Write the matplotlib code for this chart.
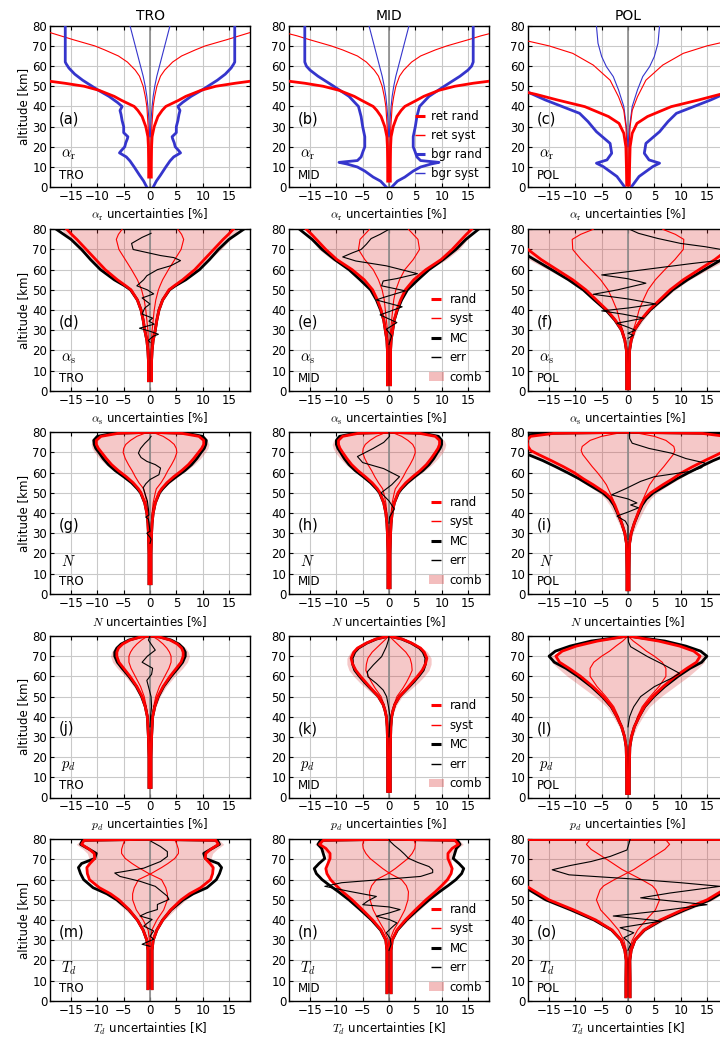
import matplotlib
matplotlib.use('Agg')
import matplotlib.pyplot as plt
import numpy as np
from matplotlib.lines import Line2D
from matplotlib.patches import Patch

plt.rcParams['font.family'] = ['DejaVu Sans']
plt.rcParams['mathtext.fontset'] = 'cm'

REGIONS = ['TRO', 'MID', 'POL']
ROW_VARS = [r'$\alpha_\mathrm{r}$', r'$\alpha_\mathrm{s}$', r'$N$', r'$p_d$', r'$T_d$']
ROW_XLABELS = [r'$\alpha_\mathrm{r}$ uncertainties [%]', r'$\alpha_\mathrm{s}$ uncertainties [%]',
               r'$N$ uncertainties [%]', r'$p_d$ uncertainties [%]', r'$T_d$ uncertainties [K]']
PANEL_LETTERS = ['a', 'b', 'c', 'd', 'e', 'f', 'g', 'h', 'i', 'j', 'k', 'l', 'm', 'n', 'o']
XTICKS = [-15, -10, -5, 0, 5, 10, 15]
YTICKS = [0, 10, 20, 30, 40, 50, 60, 70, 80]

# ---------------- Row 1: alpha_r ----------------
# (a) TRO
A_RETRAND_Z = [5, 10, 20, 25, 30, 35, 38, 40, 43, 45, 48, 50, 51.5, 53]
A_RETRAND = [0.25, 0.25, 0.3, 0.4, 0.8, 1.5, 2.3, 3.0, 5.4, 6.8, 9.7, 12.5, 16.2, 20.5]
A_RETSYST_Z = [5, 20, 30, 40, 45, 50, 55, 58, 62, 65, 68, 70, 73, 75, 77, 78]
A_RETSYST = [0.05, 0.2, 0.35, 0.6, 0.9, 1.3, 2.0, 2.8, 4.3, 6.0, 8.6, 10.5, 14.5, 17.0, 19.5, 21.0]
A_BGRRAND_Z = [0, 3, 6, 10, 13, 15, 17, 18, 20, 22, 24, 25, 27, 30, 33, 36, 38, 40, 42, 45, 48, 50, 53, 56, 59, 61, 62, 80]
A_BGRRAND = [0.6, 1.2, 2.0, 3.0, 3.8, 4.5, 5.8, 5.5, 4.8, 4.6, 4.3, 4.2, 5.0, 5.0, 5.3, 5.5, 5.7, 5.3, 6.2, 7.8, 9.8, 11.0, 12.8, 14.3, 15.4, 15.9, 16.1, 16.1]
A_BGRSYST_Z = [25, 30, 35, 40, 45, 50, 55, 60, 65, 70, 75, 80]
A_BGRSYST = [0.05, 0.15, 0.25, 0.4, 0.6, 0.9, 1.3, 1.8, 2.3, 2.8, 3.3, 3.8]
# (b) MID
B_RETRAND_Z = [3, 10, 20, 25, 30, 35, 38, 40, 43, 45, 48, 50, 51.5, 53]
B_RETRAND = [0.25, 0.25, 0.3, 0.4, 0.8, 1.5, 2.3, 3.0, 5.2, 6.6, 9.5, 12.5, 16.0, 20.5]
B_RETSYST_Z = [3, 20, 30, 40, 45, 50, 55, 58, 62, 65, 68, 70, 73, 75, 76, 77]
B_RETSYST = [0.05, 0.2, 0.35, 0.6, 0.9, 1.3, 2.0, 2.8, 4.3, 6.0, 8.8, 11.0, 15.0, 17.5, 19.0, 20.5]
B_BGRRAND_Z = [0, 3, 5, 8, 10, 11.5, 12.3, 13.2, 15, 18, 20, 25, 30, 35, 40, 45, 50, 55, 58, 60, 62, 80]
B_BGRRAND = [0.5, 1.6, 3.0, 4.6, 6.0, 8.0, 9.5, 6.0, 5.3, 4.9, 4.6, 4.6, 5.0, 5.3, 5.8, 7.6, 10.5, 13.5, 15.0, 15.7, 16.0, 16.0]
B_BGRSYST_Z = [25, 30, 35, 40, 45, 50, 55, 60, 65, 70, 75, 80]
B_BGRSYST = [0.05, 0.15, 0.25, 0.4, 0.6, 0.9, 1.3, 1.8, 2.3, 2.8, 3.3, 3.8]
# (c) POL
C_RETRAND_Z = [1, 10, 20, 26.7, 31.6, 35, 39.9, 43.2, 46, 48]
C_RETRAND = [0.25, 0.3, 0.4, 0.8, 1.7, 3.7, 8.2, 13.4, 17.5, 21.0]
C_RETSYST_Z = [1, 20, 30, 38, 44.8, 53, 60.5, 66.3, 70, 72.5, 74]
C_RETSYST = [0.05, 0.2, 0.4, 0.8, 1.8, 3.4, 6.6, 10.5, 15.0, 19.2, 22.0]
C_BGRRAND_Z = [0, 5.3, 10.2, 11.9, 13.5, 16.8, 21.7, 27.5, 32.5, 36.6, 43.2, 47.3, 50, 80]
C_BGRRAND = [0.6, 2.1, 4.7, 6.0, 4.0, 3.1, 3.4, 6.0, 7.6, 9.2, 15.7, 19.2, 23.0, 23.0]
C_BGRSYST_Z = [20, 30, 40, 48.2, 54.8, 59.7, 64.7, 71.3, 80]
C_BGRSYST = [0.0, 0.3, 0.8, 1.8, 2.8, 4.1, 5.0, 5.7, 6.0]

# ---------------- Row 2: alpha_s ----------------
D_Z = [5, 10, 15, 20, 25, 30, 35, 40, 45, 50, 52, 55, 60, 65, 70, 75, 77.5, 80]
D_RAND = [0.3, 0.3, 0.3, 0.4, 0.6, 1.0, 1.3, 1.7, 2.4, 3.6, 4.6, 6.2, 8.5, 10.3, 12.1, 13.9, 14.9, 15.8]
D_MC = [0.3, 0.3, 0.3, 0.4, 0.6, 1.0, 1.3, 1.7, 2.4, 3.7, 4.8, 6.8, 9.4, 11.3, 13.0, 15.0, 16.4, 17.8]
D_SYST = [0.05, 0.1, 0.15, 0.2, 0.3, 0.4, 0.6, 0.8, 1.1, 1.6, 1.9, 2.4, 3.5, 4.7, 5.9, 6.4, 6.0, 5.3]
D_COMB = [0.3, 0.32, 0.35, 0.45, 0.7, 1.1, 1.4, 1.9, 2.6, 3.9, 5.0, 6.6, 9.2, 11.3, 13.5, 15.3, 16.2, 16.7]
D_ERR_Z = [24, 25, 27, 28, 29.5, 31, 33, 34.5, 36, 38, 41, 43, 46, 48, 50, 52, 55, 57, 60, 62, 64.5, 66, 67, 70, 73, 76, 78]
D_ERR = [0, -0.3, 0.6, 1.6, 0, -2.0, 0.8, -0.2, 0.5, -1.5, -1.0, 0, -1.5, 0.7, -0.5, -2.5, -1.2, -0.6, 1.4, 4.0, 5.8, 4.5, 2.0, -3.2, -3.5, -1.5, 0.2]

E_Z = [3, 10, 15, 20, 25, 30, 35, 40, 45, 50, 55, 60, 65, 70, 75, 77.5, 80]
E_RAND = [0.3, 0.3, 0.3, 0.3, 0.4, 0.7, 1.0, 1.5, 2.2, 3.1, 4.7, 7.0, 9.9, 12.0, 13.8, 14.7, 15.7]
E_MC = [0.3, 0.3, 0.3, 0.3, 0.4, 0.7, 1.0, 1.6, 2.4, 3.5, 5.5, 7.6, 10.3, 12.7, 14.6, 15.8, 17.0]
E_SYST = [0.05, 0.1, 0.1, 0.15, 0.2, 0.3, 0.5, 0.7, 0.9, 1.3, 2.0, 3.0, 4.6, 5.8, 5.5, 4.6, 3.7]
E_COMB = [0.3, 0.32, 0.32, 0.35, 0.5, 0.8, 1.1, 1.7, 2.4, 3.4, 5.1, 7.6, 10.9, 13.3, 14.9, 15.4, 16.1]
E_ERR_Z = [23, 27.2, 30.5, 33.8, 37.6, 41.6, 45, 46.2, 49.5, 52, 54.4, 55.6, 58, 61.9, 64.3, 66.3, 68.4, 70, 72.6, 75.4, 77.5, 80]
E_ERR = [0, 0.5, -0.5, 1.5, -1.7, 2.5, -2.4, -1.1, 3.1, -1.4, -1.1, 1.5, 5.4, -0.5, -6.3, -8.8, -6.9, -5.3, -4.3, -3.4, -1.7, 0]

F_Z = [1, 10, 20, 25, 30, 35, 40, 45, 50, 55, 60, 65, 70, 75, 77.5, 80]
F_RAND = [0.25, 0.25, 0.3, 0.6, 1.2, 2.4, 4.0, 6.0, 8.0, 10.5, 13.5, 16.5, 19.0, 22.0, 23.5, 25.0]
F_MC = [0.25, 0.25, 0.3, 0.6, 1.2, 2.5, 4.2, 6.4, 8.5, 11.3, 14.5, 17.8, 21.0, 24.0, 26.0, 28.0]
F_SYST = [0.05, 0.1, 0.3, 0.5, 1.0, 1.6, 2.1, 2.9, 3.8, 5.2, 7.0, 8.9, 10.5, 10.6, 9.0, 6.6]
F_COMB = [0.25, 0.27, 0.4, 0.8, 1.6, 2.9, 4.5, 6.7, 8.9, 11.7, 15.2, 18.8, 21.7, 24.4, 25.2, 26.0]
F_ERR_Z = [26, 27.5, 28.5, 30, 31.5, 33.5, 34.5, 36, 38, 39.6, 41, 43, 45.5, 47.8, 50, 53.3, 55.5, 57.4, 60, 63, 66, 69, 71.4, 73, 75.5, 78, 80]
F_ERR = [0, 1.0, 0, 1.4, 0, -2.1, 0, 3.0, -1.0, -5.0, 0, 5.3, 0, -6.6, -2.0, 3.4, 0, -5.0, 3.0, 12.0, 22.0, 20.0, 14.6, 10.0, 5.6, 2.0, 0.3]

# ---------------- Row 3: N ----------------
G_Z = [5, 10, 20, 30, 35, 40, 45, 50, 52, 55, 58, 61, 64, 67, 70, 72, 74, 76, 78, 79.5, 80]
G_RAND = [0.2, 0.2, 0.2, 0.3, 0.4, 0.6, 1.0, 1.7, 2.2, 3.2, 4.5, 6.0, 7.3, 8.3, 9.2, 9.8, 10.2, 10.2, 9.3, 6.0, 0]
G_MC = [0.2, 0.2, 0.2, 0.3, 0.4, 0.6, 1.0, 1.8, 2.4, 3.5, 5.0, 6.6, 7.9, 8.9, 9.7, 10.3, 10.6, 10.7, 10.0, 7.0, 0]
G_SYST = [0.05, 0.05, 0.1, 0.2, 0.3, 0.4, 0.6, 1.0, 1.2, 2.1, 2.8, 3.4, 4.1, 4.7, 5.1, 5.0, 4.6, 3.7, 2.5, 1.0, 0]
G_COMB = [0.2, 0.2, 0.22, 0.36, 0.5, 0.72, 1.2, 2.0, 2.5, 3.8, 5.3, 6.9, 8.4, 9.6, 10.5, 11.0, 11.2, 10.9, 9.6, 6.2, 0]
G_ERR_Z = [25, 27, 28, 30, 31, 33, 37, 38, 39, 42, 46, 50, 52.5, 54.5, 56.6, 59, 62.3, 64, 65.6, 67.5, 69.7, 72, 74.5, 76.5, 78]
G_ERR = [0, 0.2, 0, -0.6, 0, -0.1, -0.3, -0.8, -0.2, -0.3, -0.5, -1.0, -1.3, -0.8, 0, 1.7, 2.0, 1.0, -0.6, -1.7, -2.2, -1.8, -1.0, -0.2, 0.2]

H_Z = [3, 10, 20, 30, 35, 40, 45, 50, 52, 55, 58, 61, 64, 67, 70, 72, 74, 76, 78, 79.5, 80]
H_RAND = [0.2, 0.2, 0.2, 0.3, 0.4, 0.6, 1.0, 1.7, 2.2, 3.2, 4.5, 5.9, 7.1, 8.0, 8.8, 9.3, 9.6, 9.6, 8.8, 5.8, 0]
H_MC = [0.2, 0.2, 0.2, 0.3, 0.4, 0.6, 1.0, 1.8, 2.4, 3.5, 4.9, 6.4, 7.6, 8.5, 9.2, 9.7, 10.0, 10.0, 9.4, 6.5, 0]
H_SYST = [0.05, 0.05, 0.1, 0.2, 0.3, 0.4, 0.6, 1.0, 1.2, 2.0, 2.7, 3.3, 4.0, 4.6, 5.0, 4.9, 4.5, 3.6, 2.4, 1.0, 0]
H_COMB = [0.2, 0.2, 0.22, 0.36, 0.5, 0.72, 1.2, 2.0, 2.5, 3.8, 5.2, 6.8, 8.2, 9.3, 10.2, 10.6, 10.8, 10.5, 9.2, 6.0, 0]
H_ERR_Z = [35, 38, 42, 46, 50, 54, 58, 62, 65, 68, 72, 75, 78, 80]
H_ERR = [0, 0.1, 1.0, 0.0, -1.5, 0.5, 2.0, -1.0, -5.0, -6.0, -3.0, -1.0, 0.1, 0]

I_Z = [2, 10, 20, 25, 30, 35, 40, 44, 47, 50, 54, 57, 60, 63, 66, 69, 71, 73, 76, 78, 79.5, 80]
I_RAND = [0.2, 0.2, 0.25, 0.3, 0.6, 1.2, 1.9, 2.5, 3.1, 4.3, 6.6, 8.5, 10.2, 12.3, 14.6, 17.0, 18.5, 19.0, 19.2, 18.5, 14.0, 0]
I_MC = [0.2, 0.2, 0.25, 0.3, 0.6, 1.2, 2.0, 2.7, 3.5, 4.8, 7.4, 9.3, 11.5, 13.8, 16.2, 19.0, 21.0, 22.5, 23.0, 22.0, 16.0, 0]
I_SYST = [0.05, 0.1, 0.2, 0.4, 0.7, 1.3, 1.9, 2.5, 2.9, 3.4, 4.1, 4.9, 5.8, 6.8, 7.7, 8.6, 8.9, 8.7, 7.2, 5.0, 2.0, 0]
I_COMB = [0.2, 0.22, 0.32, 0.5, 0.92, 1.77, 2.7, 3.5, 4.3, 5.5, 7.8, 9.8, 11.7, 14.0, 16.5, 19.0, 20.5, 21.0, 20.5, 19.2, 14.2, 0]
I_ERR_Z = [27, 30, 33.6, 36, 38.5, 40.5, 42.6, 44, 45, 47, 49, 52, 55.7, 58, 60.7, 62.5, 64.8, 67, 69.7, 72, 74.6, 77, 80]
I_ERR = [0, 0, 0, -0.5, -2.1, 0, 2.0, 0.5, 1.7, 0, -3.1, -0.5, 2.4, 5.0, 12.0, 14.0, 14.6, 11.0, 8.2, 4.0, 0.8, 0.3, 0.3]

# ---------------- Row 4: p_d ----------------
J_Z = [5, 10, 20, 30, 40, 45, 50, 55, 60, 64, 67, 70, 72, 74, 76, 78, 79.5, 80]
J_RAND = [0.2, 0.2, 0.2, 0.3, 0.5, 0.9, 1.5, 2.5, 3.8, 5.0, 5.9, 6.3, 6.3, 6.0, 5.2, 3.8, 1.8, 0]
J_MC = [0.2, 0.2, 0.2, 0.3, 0.5, 0.9, 1.6, 2.6, 4.0, 5.3, 6.2, 6.7, 6.7, 6.3, 5.5, 4.0, 1.9, 0]
J_SYST = [0.05, 0.05, 0.1, 0.2, 0.4, 0.7, 1.1, 1.8, 2.8, 3.6, 4.0, 4.0, 3.7, 3.2, 2.5, 1.6, 0.7, 0]
J_COMB = [0.2, 0.2, 0.22, 0.36, 0.65, 1.15, 1.9, 3.1, 4.7, 6.2, 7.1, 7.5, 7.3, 6.8, 5.8, 4.1, 1.9, 0]
J_ERR_Z = [35, 40, 45, 50, 55, 58, 61, 64, 67, 70, 73, 76, 78, 80]
J_ERR = [0, 0.1, 0.3, 0.2, -0.3, -0.6, 0.3, 0.5, -1.5, -0.5, 1.0, 0.2, -0.3, 0]

K_Z = [3, 10, 20, 30, 35, 40, 43, 46, 50, 54, 57, 60, 63, 66, 69, 72, 74, 76.5, 78.5, 80]
K_RAND = [0.25, 0.25, 0.25, 0.3, 0.35, 0.5, 0.75, 1.1, 2.0, 3.4, 4.4, 5.4, 6.3, 6.9, 7.2, 6.7, 6.0, 4.3, 2.5, 0]
K_MC = [0.25, 0.25, 0.25, 0.3, 0.35, 0.5, 0.75, 1.1, 2.0, 3.5, 4.6, 5.6, 6.5, 6.9, 7.0, 6.5, 5.8, 4.2, 2.4, 0]
K_SYST = [0.05, 0.05, 0.1, 0.2, 0.3, 0.5, 0.7, 0.95, 1.5, 2.6, 3.3, 3.9, 4.4, 4.3, 4.0, 3.2, 2.4, 1.4, 0.6, 0]
K_COMB = [0.25, 0.25, 0.27, 0.36, 0.46, 0.7, 1.0, 1.5, 2.5, 4.3, 5.6, 6.7, 7.6, 8.0, 8.0, 7.3, 6.4, 4.5, 2.6, 0]
K_ERR_Z = [30, 35, 40, 45, 50, 53.2, 56.5, 59.8, 62.3, 65.6, 69.8, 74.7, 78, 80]
K_ERR = [0, 0.1, 0.2, -0.1, -0.45, -1.1, -2.4, -4.0, -4.1, -3.0, -1.4, -0.5, -0.1, 0]

L_Z = [2, 10, 20, 25, 30, 35, 40, 45, 50, 55, 60, 64, 67, 70, 72.5, 75, 77.5, 80]
L_RAND = [0.25, 0.25, 0.3, 0.35, 0.65, 1.2, 2.1, 3.1, 4.7, 6.7, 9.0, 11.2, 13.0, 13.7, 12.5, 9.8, 5.8, 0]
L_MC = [0.25, 0.25, 0.3, 0.35, 0.65, 1.2, 2.1, 3.2, 4.9, 7.0, 9.5, 11.8, 14.0, 15.0, 13.8, 11.0, 7.0, 0]
L_SYST = [0.05, 0.1, 0.2, 0.35, 0.6, 1.2, 1.8, 2.7, 4.2, 5.9, 7.2, 7.2, 6.5, 5.0, 3.5, 2.3, 1.0, 0]
L_COMB = [0.25, 0.27, 0.36, 0.5, 0.9, 1.7, 2.8, 4.1, 6.3, 8.9, 11.5, 13.3, 14.5, 14.6, 13.0, 10.3, 6.6, 0]
L_ERR_Z = [35, 36.7, 40, 43.3, 45, 50, 54.9, 59, 61.5, 65.6, 69.8, 74.7, 77, 80]
L_ERR = [0, 0.1, 0.3, 0.8, 1.1, 2.4, 5.0, 8.2, 9.8, 6.9, 3.7, 0.5, 0.1, 0]

# ---------------- Row 5: T_d ----------------
M_Z = [6, 10, 20, 25, 30, 35, 40, 45, 50, 53, 56, 60, 63, 66, 68, 70.5, 73, 75, 77.5, 79.5, 80]
M_RAND = [0.4, 0.4, 0.4, 0.4, 0.6, 1.3, 2.4, 3.9, 5.9, 7.5, 9.6, 11.5, 11.9, 12.0, 11.4, 10.5, 10.6, 11.5, 13.0, 12.5, 0]
M_MC = [0.4, 0.4, 0.4, 0.4, 0.6, 1.3, 2.4, 4.0, 6.3, 8.2, 10.8, 12.6, 13.2, 13.6, 13.0, 10.5, 10.2, 11.5, 13.2, 12.8, 0]
M_SYST = [0, 0, 0, 0, -0.1, -0.35, -1.3, -2.6, -3.3, -3.3, -3.0, -2.2, 0.2, 2.2, 3.4, 4.7, 5.4, 5.4, 5.1, 4.8, 4.5]
M_COMB = [0.4, 0.4, 0.4, 0.4, 0.6, 1.35, 2.7, 4.7, 6.8, 8.2, 10.1, 11.7, 11.9, 12.2, 12.0, 11.6, 11.9, 12.7, 14.0, 13.2, 0]
M_ERR_Z = [27, 28, 30.5, 32, 34.6, 37, 40.3, 42, 43.6, 45.2, 47.7, 50.2, 51.8, 56.7, 59.2, 61.6, 63.3, 65.7, 69, 71.5, 73.9, 76.4, 79]
M_ERR = [0, -1.5, 0.7, 0, 0.7, -1.2, 0.4, -1.9, -0.6, 1.4, 1.4, 3.6, 3.3, 1.0, -1.9, -5.7, -6.7, -1.2, 2.0, 3.3, 3.3, 2.0, 0.2]

N_Z = [4, 10, 20, 25, 30, 35, 40, 45, 50, 54, 57, 60, 63, 65.5, 68, 70.5, 73, 75.5, 77.5, 79.5, 80]
N_RAND = [0.4, 0.4, 0.4, 0.4, 0.6, 1.5, 3.1, 5.0, 7.0, 8.8, 10.0, 11.1, 11.8, 12.0, 11.6, 11.2, 11.2, 12.0, 13.2, 12.5, 0]
N_MC = [0.4, 0.4, 0.4, 0.4, 0.6, 1.6, 3.3, 5.4, 7.6, 9.6, 11.2, 12.7, 13.8, 14.2, 13.3, 12.2, 12.5, 12.8, 13.5, 13.0, 0]
N_SYST = [0, 0, 0, 0, -0.15, -0.9, -2.0, -3.0, -3.6, -3.7, -3.3, -2.4, -0.2, 1.2, 2.4, 3.6, 4.4, 4.9, 5.0, 4.8, 4.7]
N_COMB = [0.4, 0.4, 0.4, 0.4, 0.62, 1.75, 3.7, 5.8, 7.9, 9.5, 10.5, 11.4, 11.8, 12.1, 11.9, 11.8, 12.0, 13.0, 14.1, 13.4, 0]
N_ERR_Z = [25, 28, 31, 33.7, 36, 38.6, 40.3, 41.9, 43.5, 45.2, 46.5, 47.6, 49.5, 51.7, 54.2, 56.7, 58.5, 61.6, 63.5, 64.9, 66.5, 68.5, 70.6, 72.5, 74.7, 77, 79, 80]
N_ERR = [0, 0.4, 0.2, -0.5, 0.4, 1.5, 0, -2.4, 0, 2.1, 0, -5.0, -4.0, -2.4, -7.5, -12.2, -9.0, 6.0, 8.3, 8.3, 7.6, 5.5, 3.7, 3.0, 2.1, 1.0, 0.2, 0]

O_Z = [2, 10, 20, 25, 30, 35, 40, 45, 50, 55, 57, 60, 65, 70, 75, 77.5, 79.7, 80]
O_RAND = [0.4, 0.4, 0.35, 0.6, 1.3, 3.0, 6.1, 10.3, 15.0, 18.2, 19.4, 22.0, 26.0, 30.0, 34.0, 36.0, 40.0, 0]
O_MC = [0.4, 0.4, 0.35, 0.6, 1.3, 3.1, 6.4, 10.8, 15.6, 18.8, 20.0, 23.0, 27.0, 31.0, 35.0, 37.0, 41.0, 0]
O_SYST = [0, 0, -0.1, -0.3, -0.8, -1.8, -3.4, -5.2, -6.0, -5.3, -4.6, -2.6, 1.1, 4.0, 7.0, 7.9, 7.2, 7.0]
O_COMB = [0.4, 0.4, 0.36, 0.67, 1.5, 3.5, 7.0, 11.5, 16.2, 19.0, 20.0, 22.2, 26.0, 30.3, 34.7, 37.0, 40.5, 0]
O_ERR_Z = [25, 28, 29.5, 31.2, 33.7, 36.2, 39.5, 42, 44.5, 47.6, 49.5, 51, 53.4, 56.7, 58.5, 60.5, 62.4, 64.9, 67, 69, 71.5, 74.7, 78, 80]
O_ERR = [0, 0.5, 0, -0.8, 1.1, -1.5, 6.3, -2.8, 6.0, 15.0, 8.0, 2.4, 8.0, 17.5, 10.0, 0, -11.2, -14.4, -11.0, -7.0, -3.4, -0.2, 0.2, 0.4]

ROW1 = [
    (A_RETRAND_Z, A_RETRAND, A_RETSYST_Z, A_RETSYST, A_BGRRAND_Z, A_BGRRAND, A_BGRSYST_Z, A_BGRSYST),
    (B_RETRAND_Z, B_RETRAND, B_RETSYST_Z, B_RETSYST, B_BGRRAND_Z, B_BGRRAND, B_BGRSYST_Z, B_BGRSYST),
    (C_RETRAND_Z, C_RETRAND, C_RETSYST_Z, C_RETSYST, C_BGRRAND_Z, C_BGRRAND, C_BGRSYST_Z, C_BGRSYST),
]
OTHER = [
    [(D_Z, D_RAND, D_MC, D_SYST, D_COMB, D_ERR_Z, D_ERR),
     (E_Z, E_RAND, E_MC, E_SYST, E_COMB, E_ERR_Z, E_ERR),
     (F_Z, F_RAND, F_MC, F_SYST, F_COMB, F_ERR_Z, F_ERR)],
    [(G_Z, G_RAND, G_MC, G_SYST, G_COMB, G_ERR_Z, G_ERR),
     (H_Z, H_RAND, H_MC, H_SYST, H_COMB, H_ERR_Z, H_ERR),
     (I_Z, I_RAND, I_MC, I_SYST, I_COMB, I_ERR_Z, I_ERR)],
    [(J_Z, J_RAND, J_MC, J_SYST, J_COMB, J_ERR_Z, J_ERR),
     (K_Z, K_RAND, K_MC, K_SYST, K_COMB, K_ERR_Z, K_ERR),
     (L_Z, L_RAND, L_MC, L_SYST, L_COMB, L_ERR_Z, L_ERR)],
    [(M_Z, M_RAND, M_MC, M_SYST, M_COMB, M_ERR_Z, M_ERR),
     (N_Z, N_RAND, N_MC, N_SYST, N_COMB, N_ERR_Z, N_ERR),
     (O_Z, O_RAND, O_MC, O_SYST, O_COMB, O_ERR_Z, O_ERR)],
]

RED = '#ff0000'
BLUE = '#3535cc'
PINK = (0.85, 0.15, 0.15)
GRAY0 = '#8a8a8a'
LW_THICK = 2.0
LW_THIN = 0.8

fig = plt.figure(figsize=(7.2, 10.38), dpi=100)
FW, FH = 720.0, 1038.0
col_left_px = [50, 289, 528]
row_top_px = [25.7, 229.3, 432.3, 636.0, 839.3]
ax_w_px, ax_h_px = 200.0, 161.5


def sym(ax, x, z, **kw):
    x = np.asarray(x, dtype=float)
    ax.plot(x, z, **kw)
    ax.plot(-x, z, **kw)


def style(ax, r, c):
    ax.set_xlim(-19, 19)
    ax.set_ylim(0, 80)
    ax.set_xticks(XTICKS)
    ax.set_yticks(YTICKS)
    ax.set_xticklabels([('\u2212%d' % -t) if t < 0 else '%d' % t for t in XTICKS])
    ax.tick_params(direction='in', length=3, width=0.8, labelsize=8.5, top=True, right=True, pad=2)
    ax.grid(True, color='#c9c9c9', lw=0.8)
    ax.set_axisbelow(True)
    for s in ax.spines.values():
        s.set_linewidth(1.0)
    ax.axvline(0, color=GRAY0, lw=1.2, zorder=1.5)
    ax.set_xlabel(ROW_XLABELS[r], fontsize=8.5, labelpad=3)
    if c == 0:
        ax.set_ylabel('altitude [km]', fontsize=8.5, labelpad=2)
    if r == 0:
        ax.set_title(REGIONS[c], fontsize=10, pad=4)
    letter = PANEL_LETTERS[r * 3 + c]
    ax.text(-17.3, 34, '(%s)' % letter, fontsize=10.5, va='center', ha='left', zorder=6)
    ax.text(-17.0, 16, ROW_VARS[r], fontsize=10.5, va='center', ha='left', zorder=6)
    ax.text(-17.3, 6, REGIONS[c], fontsize=8.5, va='center', ha='left', zorder=6)


for r in range(5):
    for c in range(3):
        left = col_left_px[c] / FW
        bottom = 1 - (row_top_px[r] + ax_h_px) / FH
        ax = fig.add_axes([left, bottom, ax_w_px / FW, ax_h_px / FH])
        style(ax, r, c)
        if r == 0:
            rz, rv, sz, sv, bz, bv, bsz, bsv = ROW1[c]
            sym(ax, bsv, bsz, color=BLUE, lw=LW_THIN, zorder=3)
            sym(ax, sv, sz, color=RED, lw=LW_THIN, zorder=3)
            sym(ax, bv, bz, color=BLUE, lw=LW_THICK, zorder=4)
            sym(ax, rv, rz, color=RED, lw=LW_THICK, zorder=4)
            if c == 1:
                handles = [Line2D([], [], ls='none', marker='_', ms=7, mew=2.2, color=RED),
                           Line2D([], [], ls='none', marker='_', ms=7, mew=1.0, color=RED),
                           Line2D([], [], ls='none', marker='_', ms=7, mew=2.2, color=BLUE),
                           Line2D([], [], ls='none', marker='_', ms=7, mew=1.0, color=BLUE)]
                ax.legend(handles, ['ret rand', 'ret syst', 'bgr rand', 'bgr syst'], loc='lower right',
                          frameon=False, fontsize=8.5, handlelength=1.0, handletextpad=0.4,
                          labelspacing=0.5, borderaxespad=0.2)
        else:
            z, rand, mc, syst, comb, ez, ev = OTHER[r - 1][c]
            comb = np.asarray(comb, dtype=float)
            ax.fill_betweenx(z, -comb, comb, color=PINK, alpha=0.25, lw=0, zorder=1)
            sym(ax, syst, z, color=RED, lw=LW_THIN, zorder=3)
            sym(ax, mc, z, color='black', lw=LW_THICK, zorder=3.5)
            sym(ax, rand, z, color=RED, lw=LW_THICK, zorder=4)
            ax.plot(ev, ez, color='black', lw=LW_THIN, zorder=4.5)
            if c == 1:
                handles = [Line2D([], [], ls='none', marker='_', ms=7, mew=2.2, color=RED),
                           Line2D([], [], ls='none', marker='_', ms=7, mew=1.0, color=RED),
                           Line2D([], [], ls='none', marker='_', ms=7, mew=2.2, color='black'),
                           Line2D([], [], ls='none', marker='_', ms=7, mew=1.0, color='black'),
                           Patch(facecolor=PINK, alpha=0.3, edgecolor='none')]
                ax.legend(handles, ['rand', 'syst', 'MC', 'err', 'comb'], loc='lower right',
                          frameon=False, fontsize=8.5, handlelength=1.2, handletextpad=0.5,
                          labelspacing=0.55, borderaxespad=0.2)

fig.savefig('out.png', dpi=100)
